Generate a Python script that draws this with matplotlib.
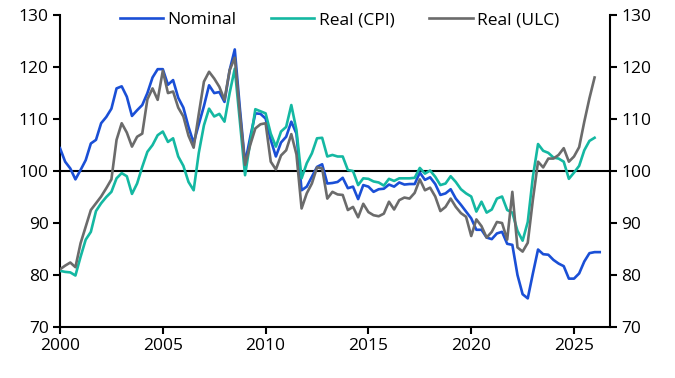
import matplotlib
matplotlib.use("Agg")
import matplotlib.pyplot as plt
import numpy as np

plt.rcParams['font.family'] = ['Open Sans', 'DejaVu Sans']

start_year = 2000
series_names = ["Nominal", "Real (CPI)", "Real (ULC)"]

nominal = [104.4, 101.8, 100.5, 98.4, 100.2, 102.1, 105.3, 106.0, 109.2, 110.4,
           112.0, 115.9, 116.3, 114.3, 110.6, 111.7, 112.7, 115.0, 118.0, 119.6,
           119.6, 116.6, 117.5, 114.1, 112.2, 108.5, 105.4, 109.0, 112.5, 116.5,
           115.0, 115.2, 113.3, 119.4, 123.4, 112.0, 101.5, 106.5, 111.1, 111.0,
           110.1, 106.0, 102.8, 105.5, 106.6, 109.5, 107.2, 96.3, 97.0, 98.9,
           100.8, 101.3, 97.6, 97.7, 97.9, 98.7, 96.7, 97.0, 94.6, 97.3,
           97.0, 96.0, 96.5, 96.6, 97.4, 97.0, 97.8, 97.4, 97.5, 97.5,
           99.7, 98.3, 98.8, 97.5, 95.4, 95.7, 96.5, 94.7, 93.5, 92.2,
           90.9, 88.7, 88.7, 87.2, 86.9, 88.0, 88.3, 86.0, 85.8, 80.0,
           76.3, 75.5, 80.3, 84.9, 84.0, 83.9, 82.9, 82.2, 81.7, 79.3,
           79.3, 80.3, 82.6, 84.2, 84.4, 84.4]

real_cpi = [80.8, 80.6, 80.5, 79.9, 83.5, 86.8, 88.3, 92.3, 93.8, 95.0,
            96.0, 98.6, 99.6, 99.0, 95.6, 97.6, 100.8, 103.7, 105.0, 106.9,
            107.6, 105.6, 106.3, 102.8, 101.0, 97.9, 96.3, 103.5, 108.8, 112.0,
            110.5, 111.0, 109.5, 115.0, 119.7, 109.5, 99.2, 105.5, 111.9, 111.5,
            111.1, 107.2, 104.7, 107.6, 108.5, 112.7, 107.9, 98.6, 101.5, 103.4,
            106.3, 106.4, 102.8, 103.1, 102.8, 102.8, 100.2, 100.0, 97.3, 98.6,
            98.5, 98.0, 97.8, 97.2, 98.5, 98.1, 98.6, 98.6, 98.6, 98.7,
            100.6, 99.5, 100.1, 98.9, 97.3, 97.6, 99.0, 97.9, 96.5, 95.7,
            95.1, 92.2, 94.1, 92.0, 92.6, 94.7, 95.1, 92.5, 92.0, 88.5,
            86.6, 90.2, 98.9, 105.2, 103.9, 103.5, 102.6, 102.4, 101.8, 98.5,
            99.7, 101.0, 104.0, 105.8, 106.4]

real_ulc = [81.1, 81.8, 82.4, 81.5, 86.1, 89.3, 92.5, 93.8, 95.1, 96.7,
            98.4, 106.0, 109.2, 107.4, 104.7, 106.6, 107.2, 113.8, 115.9, 113.7,
            119.3, 115.0, 115.3, 112.2, 110.5, 106.8, 104.5, 111.0, 117.2, 119.1,
            117.8, 116.2, 113.7, 119.4, 121.8, 111.0, 101.2, 105.0, 108.2, 109.0,
            109.2, 101.8, 100.3, 103.0, 104.0, 107.1, 103.2, 92.8, 95.7, 97.6,
            100.7, 100.5, 94.7, 96.0, 95.5, 95.4, 92.5, 93.1, 91.1, 93.7,
            92.1, 91.5, 91.3, 91.8, 94.1, 92.6, 94.4, 94.9, 94.7, 95.8,
            98.4, 96.3, 96.8, 95.1, 92.3, 93.1, 94.7, 93.1, 91.9, 91.2,
            87.5, 90.7, 89.4, 87.2, 88.3, 90.2, 90.0, 86.8, 96.0, 85.3,
            84.5, 86.2, 94.5, 101.8, 100.7, 102.4, 102.4, 103.1, 104.4, 101.8,
            102.8, 104.6, 109.5, 114.0, 118.0]

colors = ["#1a4fd6", "#14b8a2", "#6b6b6b"]
x_ticks = [2000, 2005, 2010, 2015, 2020, 2025]
y_ticks = [70, 80, 90, 100, 110, 120, 130]

def quarters(vals):
    return start_year + np.arange(len(vals)) / 4.0

fig = plt.figure(figsize=(6.75, 3.78), dpi=100)
ax = fig.add_axes([0.0889, 0.135, 0.9037 - 0.0889, 0.960 - 0.135])

for vals, name, c in zip([nominal, real_cpi, real_ulc], series_names, colors):
    ax.plot(quarters(vals), vals, color=c, lw=1.9, label=name, zorder=3,
            solid_joinstyle='round')

ax.axhline(100, color='black', lw=1.5, zorder=2)

ax.set_xlim(2000, 2026.75)
ax.set_ylim(70, 130)
ax.set_xticks(x_ticks)
ax.set_xticklabels([str(t) for t in x_ticks])
ax.set_yticks(y_ticks)

ax2 = ax.twinx()
ax2.set_ylim(70, 130)
ax2.set_yticks(y_ticks)

fs = 12.5
for a in (ax, ax2):
    a.spines['top'].set_visible(False)
    for s in ['left', 'right', 'bottom']:
        a.spines[s].set_linewidth(1.5)
        a.spines[s].set_color('black')
    a.tick_params(axis='both', direction='out', length=5, width=1.5,
                  labelsize=fs, color='black', pad=3)
ax.spines['right'].set_visible(False)
ax2.spines['left'].set_visible(False)
ax2.spines['bottom'].set_visible(False)

leg = ax.legend(loc='upper center', bbox_to_anchor=(0.508, 1.06), ncol=3,
                frameon=False, fontsize=12.5, handlelength=2.5,
                handletextpad=0.25, columnspacing=2.0)

fig.savefig("out.png", dpi=100)
